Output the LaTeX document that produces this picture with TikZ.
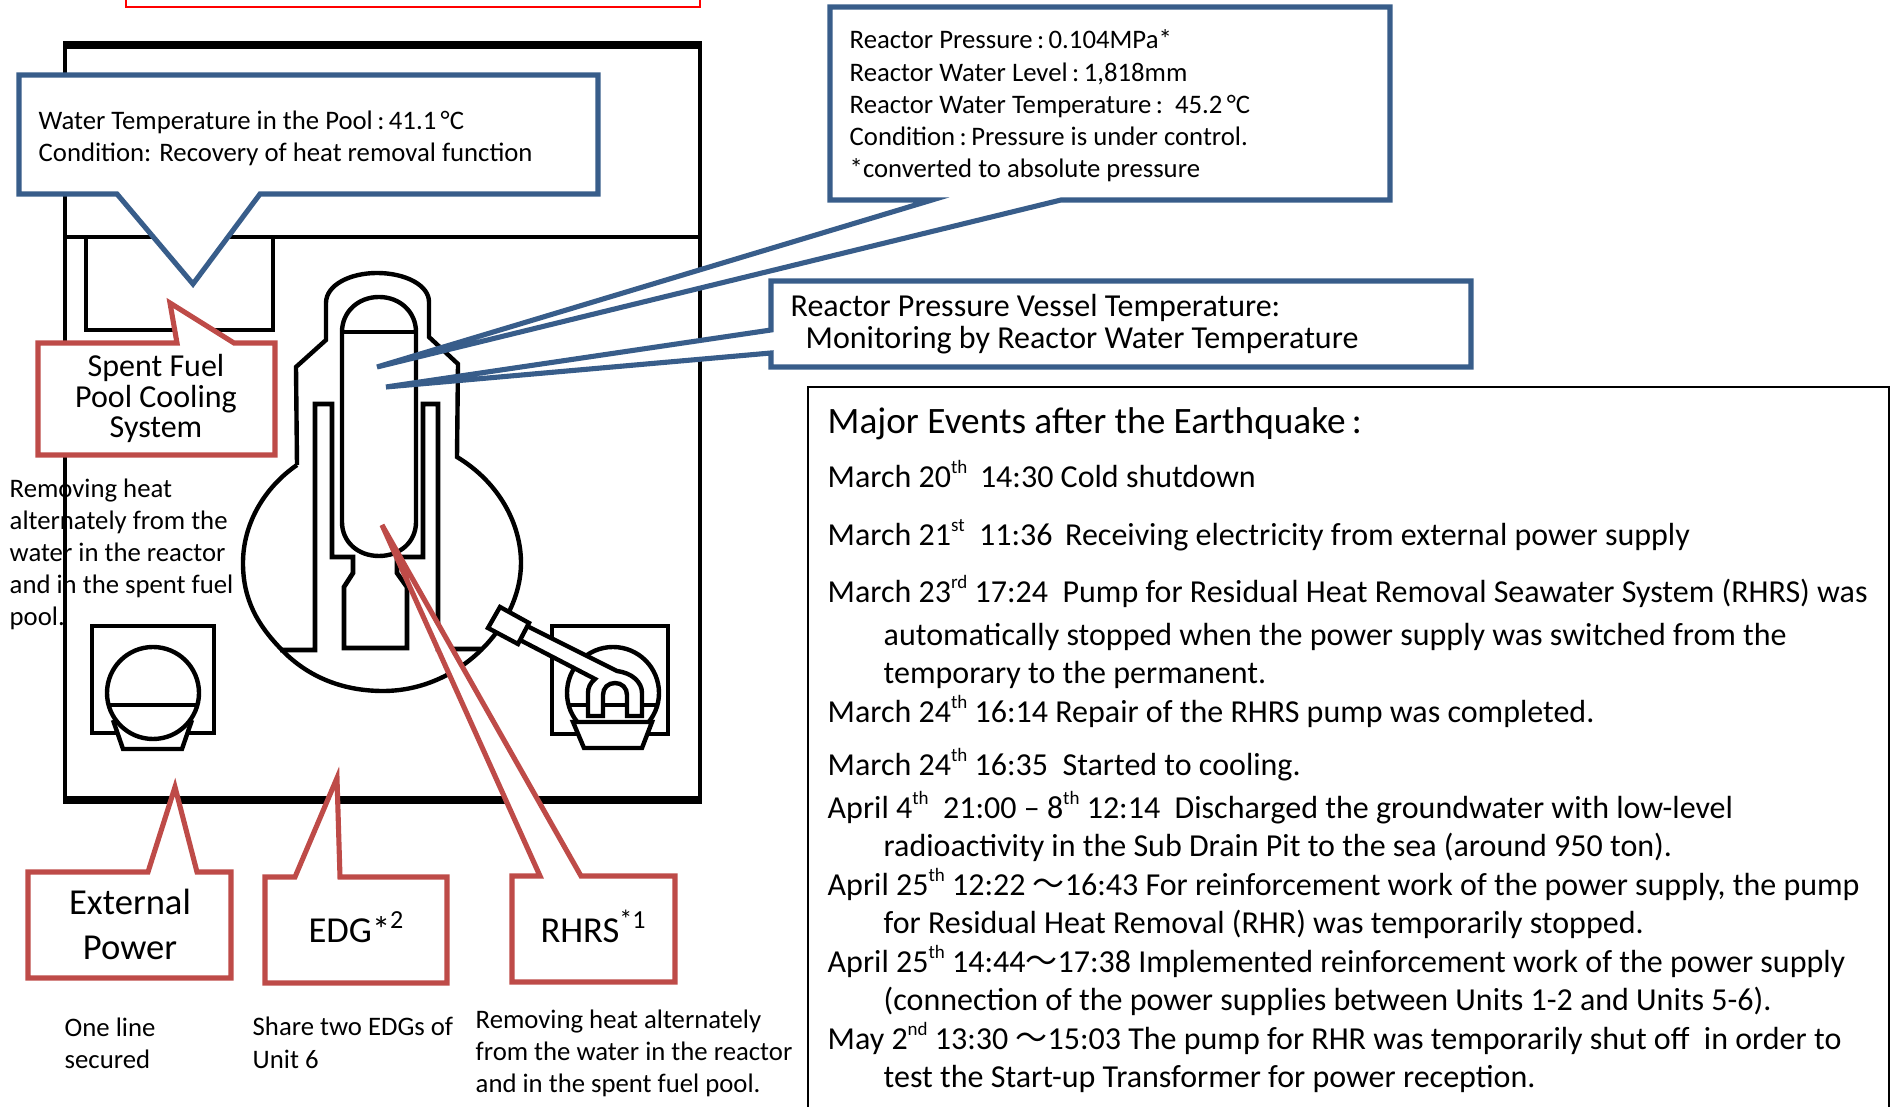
\documentclass[tikz,border=0pt]{standalone}
\usepackage{fontspec}
\setmainfont{Carlito}
\newfontfamily\cjk{Noto Sans CJK JP}
\definecolor{calloutblue}{HTML}{385D8A}
\definecolor{calloutred}{HTML}{BE4B48}
\newcommand{\wave}{{\cjk ～}}
\newcommand{\sups}[1]{\raisebox{0.42em}{\fontsize{5.4}{6}\selectfont #1}}
\newcommand{\supl}[1]{\raisebox{0.38em}{\fontsize{7.4}{8}\selectfont #1}}
\begin{document}
\begin{tikzpicture}[
            x=0.01cm, y=-0.01cm,
            bluebox/.style={draw=calloutblue, line width=1.45pt, fill=white},
            redbox/.style={draw=calloutred, line width=1.45pt, fill=white},
            wall/.style={draw=black, line width=1.25pt},
            small/.style={anchor=base west, inner sep=0pt, yshift=-0.4pt, font=\fontsize{7.6}{9}\selectfont},
            event/.style={anchor=base west, inner sep=0pt, yshift=-0.4pt, font=\fontsize{9.1}{11}\selectfont},
            big/.style={anchor=base, inner sep=0pt, yshift=-0.4pt, font=\fontsize{9.1}{11}\selectfont},
            large/.style={anchor=base, inner sep=0pt, yshift=-0.4pt, font=\fontsize{10.4}{12}\selectfont}
            ]
            \useasboundingbox (0,0) rectangle (1890,1107);
            \draw[red, line width=0.6pt] (126,-10) rectangle (700,7);

            % building
            \draw[line width=1.1pt] (65,45) rectangle (700,800);
            \draw[line width=2pt] (63,45) -- (702,45);
            \draw[line width=2pt] (63,800) -- (702,800);
            \draw[wall] (65,237) -- (700,237);
            \draw[wall] (86,237) rectangle (273,330);

            % left generator
            \draw[wall] (92,626) rectangle (214,733);
            \draw[wall, fill=white] (113,720) -- (123,749) -- (182,749) -- (192,720);
            \draw[wall, fill=white] (153,693) circle (46);
            \draw[line width=1.4pt] (108,705) -- (197,705);

            % containment
            \draw[wall] (297,465) -- (296,367) -- (326,340) -- (326,303)
                .. controls (326,285) and (350,273) .. (377,273)
                .. controls (405,273) and (429,285) .. (429,302)
                -- (429,337) -- (458,364) -- (457,457)
                .. controls (500,483) and (521,525) .. (521,563)
                .. controls (521,625) and (460,691) .. (383,691)
                .. controls (340,691) and (305,675) .. (280,648)
                .. controls (258,625) and (243,600) .. (243,563)
                .. controls (243,523) and (265,487) .. (297,465);
            \draw[wall, line width=1.35pt] (280,650) -- (315,650) -- (315,404) -- (332,404) -- (332,557) -- (353,557)
                -- (353,573) -- (344,587) -- (344,648) -- (407,648) -- (407,587) -- (397,573)
                -- (397,557) -- (423,557) -- (423,404) -- (438,404) -- (438,649) -- (483,649);
            % pressure vessel
            \draw[wall, fill=white] (342,332)
                .. controls (342,312) and (358,297) .. (379,297)
                .. controls (400,297) and (416,312) .. (416,332)
                -- (416,522)
                .. controls (416,542) and (400,556) .. (379,556)
                .. controls (358,556) and (342,542) .. (342,522) -- cycle;
            \draw[wall] (342,332) -- (416,332);

            % right generator
            \draw[line width=1.3pt] (552,626) rectangle (668,734);
            \draw[wall, fill=white] (613,693) circle (46);
            \draw[wall] (570,705) -- (657,705);
            \draw[wall, fill=white] (573,722) -- (652,722) -- (642,748) -- (584,748) -- cycle;
            % pipe
            \draw[wall, fill=white] (525,625) -- (617,671)
                .. controls (632,673) and (642,682) .. (642,693)
                -- (642,716) -- (627,716) -- (627,695)
                .. controls (627,688) and (622,683) .. (615,683)
                .. controls (608,683) and (603,688) .. (603,695)
                -- (603,716) -- (588,716) -- (588,693)
                .. controls (588,688) and (590,683) .. (595,679) -- (520,640);
            \draw[wall, fill=white] (500,607) -- (529,623) -- (518,644) -- (488,628) -- cycle;

            % callouts
            \draw[bluebox] (19,75) -- (598,75) -- (598,194) -- (260,194) -- (193,284) -- (117,194) -- (19,194) -- cycle;
            \draw[redbox] (38,343) -- (177,343) -- (170,303) -- (234,343) -- (275,343) -- (275,455) -- (38,455) -- cycle;
            \draw[bluebox] (830,7) -- (1390,7) -- (1390,200) -- (1061,200) -- (377,367) -- (932,200) -- (830,200) -- cycle;
            \draw[bluebox] (771,281) -- (1471,281) -- (1471,367) -- (771,367) -- (771,353) -- (386,387) -- (771,330) -- cycle;
            \draw[redbox] (28,872) -- (148,872) -- (175,787) -- (197,872) -- (231,872) -- (231,978) -- (28,978) -- cycle;
            \draw[redbox] (265,877) -- (295,877) -- (337,778) -- (340,877) -- (447,877) -- (447,983) -- (265,983) -- cycle;
            \draw[redbox] (512,876) -- (540,876) -- (382,525) -- (581,876) -- (675,876) -- (675,982) -- (512,982) -- cycle;

            % callout texts
            \node[small] (pool1) at (38,128) {Water Temperature in the Pool\,:\,41.1\,°C};
            \node[small] (pool2) at (38,160) {Condition: Recovery of heat removal function};
            \node[big] (spf1) at (156,375) {Spent Fuel};
            \node[big] (spf2) at (156,406) {Pool Cooling};
            \node[big] (spf3) at (156,436) {System};
            \node[small] (rp1) at (849,47) {Reactor Pressure\,:\,0.104MPa*};
            \node[small] (rp2) at (849,80) {Reactor Water Level\,:\,1,818mm};
            \node[small] (rp3) at (849,112) {Reactor Water Temperature\,:\ \ 45.2\,°C};
            \node[small] (rp4) at (849,144) {Condition\,:\,Pressure is under control.};
            \node[small] (rp5) at (849,176) {*converted to absolute pressure};
            \node[event] (rv1) at (790,315) {Reactor Pressure Vessel Temperature:};
            \node[event] (rv2) at (805,347) {Monitoring by Reactor Water Temperature};
            \node[large] (ext1) at (130,913) {External};
            \node[large] (ext2) at (130,958) {Power};
            \node[large] (edg) at (356,941) {EDG*\supl{2}};
            \node[large] (rhrs) at (593,941) {RHRS\supl{*1}};

            % notes
            \node[small] (sp1) at (9,496) {Removing heat};
            \node[small] (sp2) at (9,528) {alternately from the};
            \node[small] (sp3) at (9,560) {water in the reactor};
            \node[small] (sp4) at (9,592) {and in the spent fuel};
            \node[small] (sp5) at (9,624) {pool.};
            \node[small] (one1) at (64,1035) {One line};
            \node[small] (one2) at (64,1067) {secured};
            \node[small] (sh1) at (252,1034) {Share two EDGs of};
            \node[small] (sh2) at (252,1067) {Unit 6};
            \node[small] (rm1) at (475,1027) {Removing heat alternately};
            \node[small] (rm2) at (475,1059) {from the water in the reactor};
            \node[small] (rm3) at (475,1091) {and in the spent fuel pool.};

            % events
            \draw[line width=0.6pt] (808,387) rectangle (1889,1130);
            \node[event, font=\fontsize{10.6}{12}\selectfont] (title) at (827,432) {Major Events after the Earthquake\,:};
            \node[event] (ev1) at (827,486) {March 20\sups{th}\ \,14:30 Cold shutdown};
            \node[event] (ev2) at (827,544) {March 21\sups{st}\ \ 11:36\ \,Receiving electricity from external power supply};
            \node[event] (ev3) at (827,601) {March 23\sups{rd} 17:24\ \ Pump for Residual Heat Removal Seawater System (RHRS) was};
            \node[event] (ev3b) at (883,644) {automatically stopped when the power supply was switched from the};
            \node[event] (ev3c) at (883,682) {temporary to the permanent.};
            \node[event] (ev4) at (827,721) {March 24\sups{th} 16:14 Repair of the RHRS pump was completed.};
            \node[event] (ev5) at (827,774) {March 24\sups{th} 16:35\ \ Started to cooling.};
            \node[event] (ev6) at (827,817) {April 4\sups{th}\ \ 21:00 -- 8\sups{th} 12:14\ \ Discharged the groundwater with low-level};
            \node[event] (ev6b) at (883,855) {radioactivity in the Sub Drain Pit to the sea (around 950 ton).};
            \node[event] (ev7) at (827,894) {April 25\sups{th} 12:22 \wave16:43 For reinforcement work of the power supply, the pump};
            \node[event] (ev7b) at (883,932) {for Residual Heat Removal (RHR) was temporarily stopped.};
            \node[event] (ev8) at (827,971) {April 25\sups{th} 14:44\wave17:38 Implemented reinforcement work of the power supply};
            \node[event] (ev8b) at (883,1009) {(connection of the power supplies between Units 1-2 and Units 5-6).};
            \node[event] (ev9) at (827,1048) {May 2\sups{nd} 13:30 \wave15:03 The pump for RHR was temporarily shut off\ \ in order to};
            \node[event] (ev9b) at (883,1086) {test the Start-up Transformer for power reception.};
            \end{tikzpicture}
\end{document}
